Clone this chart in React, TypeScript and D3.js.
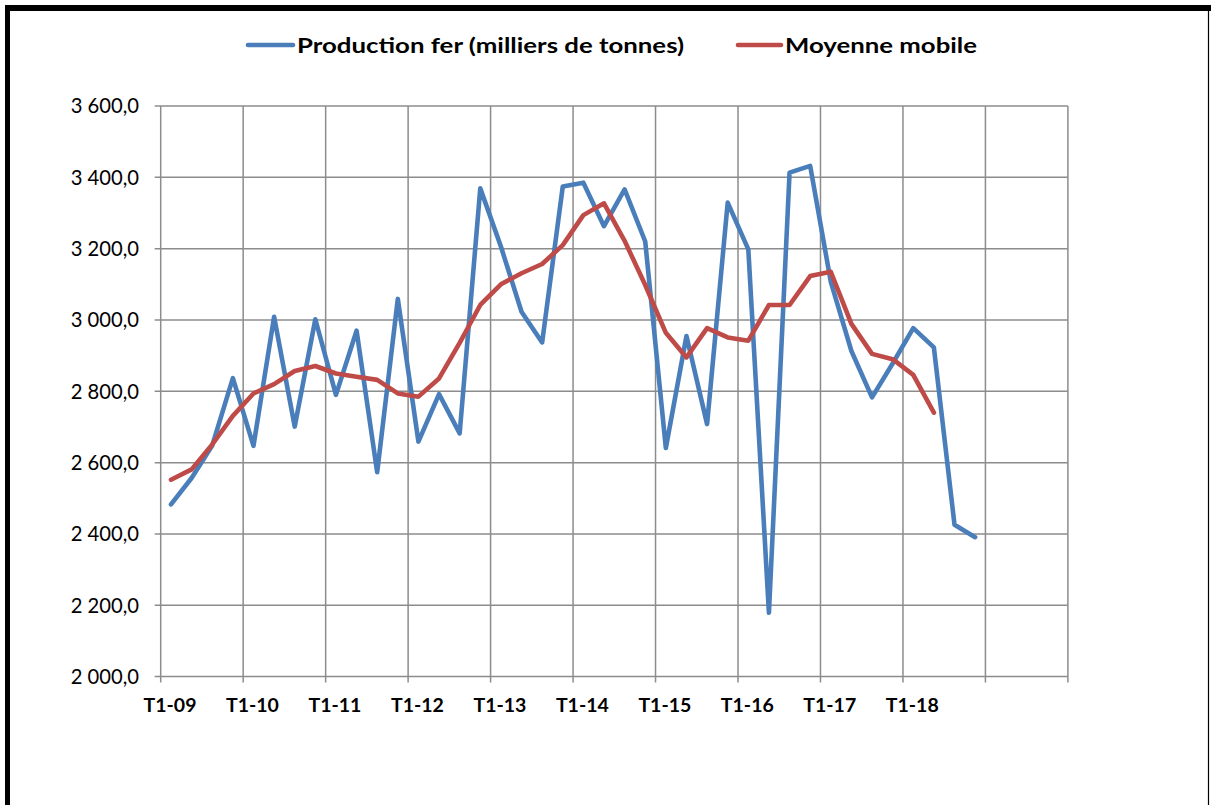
import React from "react";
import * as d3 from "d3";

// Categories: quarters T1-09 .. T4-19 (axis holds 44 categories)
const years = ["09", "10", "11", "12", "13", "14", "15", "16", "17", "18", "19"];
const categories: string[] = years.flatMap((yy) => ["T1", "T2", "T3", "T4"].map((q) => `${q}-${yy}`));

const tickLabels = ["T1-09", "T1-10", "T1-11", "T1-12", "T1-13", "T1-14", "T1-15", "T1-16", "T1-17", "T1-18"];

const production = [
  2483, 2557, 2648, 2837, 2647, 3009, 2701, 3002, 2790, 2970,
  2573, 3059, 2659, 2792, 2682, 3369, 3206, 3023, 2937, 3374,
  3385, 3263, 3366, 3220, 2641, 2955, 2708, 3329, 3198, 2179,
  3413, 3432, 3107, 2913, 2783, 2878, 2977, 2923, 2426, 2391,
];

const moyenne = [
  2552, 2581, 2651, 2731, 2794, 2820, 2857, 2871, 2850, 2841,
  2832, 2794, 2785, 2836, 2936, 3042, 3100, 3131, 3157, 3210,
  3294, 3327, 3222, 3098, 2964, 2895, 2977, 2951, 2942, 3042,
  3042, 3123, 3135, 2989, 2905, 2890, 2846, 2740,
];

const yTicks = [2000, 2200, 2400, 2600, 2800, 3000, 3200, 3400, 3600];

const BLUE = "#4a7ebb";
const RED = "#be4b48";
const GRID = "#8c8c8c";
const FONT = "Lato, 'Open Sans', sans-serif";

export default function App() {
  const W = 1211;
  const H = 805;
  const left = 160.7;
  const right = 1067.9;
  const top = 106;
  const bottom = 676.6;

  const x = d3.scaleBand<string>().domain(categories).range([left, right]).padding(0);
  const bw = x.bandwidth();
  const cx = (i: number) => (x(categories[i]) as number) + bw / 2;
  const y = d3.scaleLinear().domain([2000, 3600]).range([bottom, top]);

  const line = d3
    .line<number>()
    .x((_, i) => cx(i))
    .y((d) => y(d));

  const fmt = (v: number) => {
    const s = d3.format(",.1f")(v);
    return s.replace(",", " ").replace(".", ",");
  };

  const vLines = d3.range(0, categories.length + 1, 4).map((k) =>
    k < categories.length ? (x(categories[k]) as number) : right
  );

  return (
    <svg
      width={W}
      height={H}
      style={{ position: "absolute", left: 0, top: 0, background: "#fff" }}
      fontFamily={FONT}
    >
      <rect x={0} y={0} width={W} height={H} fill="#fff" />
      {/* frame */}
      <line x1={7.5} y1={8} x2={7.5} y2={H} stroke="#000" strokeWidth={5} />
      <line x1={5} y1={8} x2={W} y2={8} stroke="#000" strokeWidth={6} />
      <line x1={1208.5} y1={11} x2={1208.5} y2={H} stroke="#000" strokeWidth={1.2} />

      {/* horizontal gridlines + y ticks */}
      {yTicks.map((t) => (
        <g key={t}>
          <line x1={left - 6} x2={right} y1={y(t)} y2={y(t)} stroke={GRID} strokeWidth={1.5} />
          <text x={139} y={y(t)} dy="0.36em" textAnchor="end" fontSize={20.2} fill="#000">
            {fmt(t)}
          </text>
        </g>
      ))}

      {/* vertical gridlines + x ticks */}
      {vLines.map((vx, k) => (
        <line key={k} x1={vx} x2={vx} y1={top} y2={bottom + 6} stroke={GRID} strokeWidth={1.5} />
      ))}

      {tickLabels.map((lab) => {
        const i = categories.indexOf(lab);
        return (
          <text key={lab} x={cx(i) - 1} y={712} textAnchor="middle" fontSize={19.5} fontWeight="bold" fill="#000">
            {lab}
          </text>
        );
      })}

      {/* series */}
      <path d={line(production) || ""} fill="none" stroke={BLUE} strokeWidth={4.6} strokeLinejoin="round" strokeLinecap="round" />
      <path d={line(moyenne) || ""} fill="none" stroke={RED} strokeWidth={4.6} strokeLinejoin="round" strokeLinecap="round" />

      {/* legend */}
      <line x1={248} x2={293} y1={45} y2={45} stroke={BLUE} strokeWidth={4.6} strokeLinecap="round" />
      <text x={297} y={45} dy="0.36em" fontSize={21} fontWeight="bold" fill="#000" textLength={387} lengthAdjust="spacingAndGlyphs">
        Production fer (milliers de tonnes)
      </text>
      <line x1={738} x2={781} y1={45} y2={45} stroke={RED} strokeWidth={4.6} strokeLinecap="round" />
      <text x={785} y={45} dy="0.36em" fontSize={21} fontWeight="bold" fill="#000" textLength={192} lengthAdjust="spacingAndGlyphs">
        Moyenne mobile
      </text>
    </svg>
  );
}
